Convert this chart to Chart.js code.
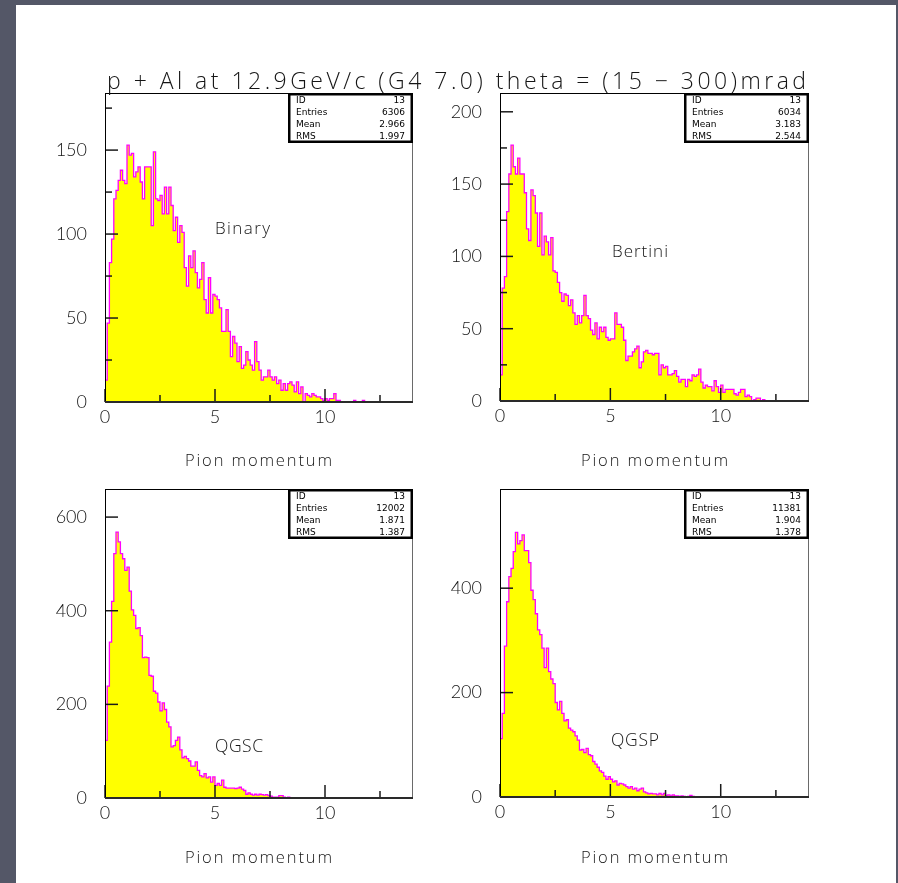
<!DOCTYPE html>
<html>
<head>
<meta charset="utf-8">
<title>p + Al at 12.9GeV/c (G4 7.0)</title>
<script src="https://cdn.jsdelivr.net/npm/chart.js@4.4.1/dist/chart.umd.min.js"></script>
<style>
  html, body { margin: 0; padding: 0; }
  body { width: 898px; height: 883px; overflow: hidden; position: relative; background: #545767; font-family: 'Open Sans', Lato, sans-serif; }
  #page { position: absolute; left: 16px; top: 5px; width: 880px; height: 878px; background: #fff; }
  canvas { position: absolute; }
  .lbl { position: absolute; white-space: nowrap; line-height: 1; font-weight: 300; color: #151515; }
</style>
</head>
<body>
<div id="page"></div>
<canvas id="c1"></canvas>
<canvas id="c2"></canvas>
<canvas id="c3"></canvas>
<canvas id="c4"></canvas>
<script>
// Histogram bins are 0.1 wide, starting at 0
const BIN = 0.1;
const xTicks = [0, 5, 10];
const xMinor = [2.5, 7.5, 12.5];
const xTitle = 'Pion momentum';
const pageTitle = 'p + Al at 12.9GeV/c (G4 7.0) theta = (15 \u2212 300)mrad';

// Binary cascade
const binaryCounts = [
  13, 47, 83, 97, 121, 126, 132, 138, 132, 130,
  153, 147, 148, 134, 137, 140, 131, 121, 140, 140,
  140, 105, 149, 121, 120, 123, 112, 128, 112, 128,
  117, 102, 110, 95, 105, 101, 80, 69, 87, 80,
  90, 77, 68, 73, 83, 61, 53, 74, 53, 64,
  63, 61, 56, 42, 42, 55, 42, 27, 39, 35,
  24, 33, 20, 22, 30, 25, 22, 19, 36, 24,
  19, 13, 15, 15, 19, 15, 13, 15, 11, 13,
  7, 11, 7, 11, 12, 10, 6, 12, 5, 9,
  0, 5, 4, 3, 5, 4, 3, 3, 2, 1,
  2, 1, 2, 2, 5, 1, 1, 0, 0, 0,
  0, 0, 0, 1, 0, 0, 0, 1, 0, 0
];
const binaryYTicks = [0, 50, 100, 150];
const binaryYMinor = [25, 75, 125, 175];

// Bertini cascade
const bertiniCounts = [
  18, 78, 86, 131, 157, 177, 162, 157, 168, 157,
  157, 144, 119, 111, 146, 142, 130, 107, 130, 101,
  114, 110, 101, 113, 90, 89, 82, 75, 69, 74,
  73, 66, 70, 61, 53, 59, 54, 59, 73, 59,
  57, 49, 46, 54, 43, 51, 48, 51, 44, 42,
  43, 43, 61, 53, 53, 51, 42, 28, 31, 31,
  34, 36, 38, 23, 27, 34, 35, 33, 33, 32,
  33, 33, 18, 25, 23, 24, 18, 18, 19, 21,
  17, 13, 15, 15, 10, 15, 14, 18, 17, 18,
  22, 13, 9, 11, 10, 10, 7, 14, 10, 6,
  11, 6, 8, 8, 8, 8, 5, 4, 6, 8,
  8, 3, 4, 3, 0, 1, 2, 2, 0, 1
];
const bertiniYTicks = [0, 50, 100, 150, 200];
const bertiniYMinor = [25, 75, 125, 175];

// QGSC
const qgscCounts = [
  123, 239, 333, 420, 522, 568, 547, 522, 511, 486,
  493, 442, 402, 390, 362, 364, 347, 300, 301, 300,
  262, 260, 228, 224, 205, 186, 203, 189, 162, 152,
  109, 112, 123, 130, 103, 86, 89, 84, 79, 68,
  68, 77, 59, 48, 45, 52, 43, 45, 34, 45,
  27, 31, 27, 38, 23, 21, 21, 21, 21, 20,
  21, 23, 19, 16, 8, 11, 8, 6, 8, 6,
  8, 7, 6, 7, 5, 4, 2, 2, 2, 5,
  5, 2, 1, 2, 1, 1, 0, 1, 1, 0
];
const qgscYTicks = [0, 200, 400, 600];
const qgscYMinor = [];

// QGSP
const qgspCounts = [
  112, 160, 289, 374, 422, 438, 470, 507, 485, 491,
  502, 472, 472, 449, 396, 378, 351, 320, 311, 285,
  248, 285, 240, 226, 217, 181, 167, 183, 160, 146,
  148, 132, 128, 125, 117, 109, 90, 91, 85, 93,
  81, 79, 68, 63, 57, 50, 47, 40, 34, 39,
  34, 29, 31, 23, 26, 25, 23, 20, 17, 20,
  15, 17, 12, 15, 17, 10, 8, 6, 7, 6,
  6, 4, 7, 4, 7, 3, 4, 2, 4, 2,
  2, 1, 2, 1, 0, 1, 3, 1, 0, 0
];
const qgspYTicks = [0, 200, 400];
const qgspYMinor = [];

// Stat boxes
const models = ['Binary', 'Bertini', 'QGSC', 'QGSP'];
const statIds = ['13', '13', '13', '13'];
const statEntries = ['6306', '6034', '12002', '11381'];
const statMeans = ['2.966', '3.183', '1.871', '1.904'];
const statRms = ['1.997', '2.544', '1.387', '1.378'];
const yMaxes = [184, 213, 660, 590];

const panels = [
  { counts: binaryCounts, yTicks: binaryYTicks, yMinor: binaryYMinor },
  { counts: bertiniCounts, yTicks: bertiniYTicks, yMinor: bertiniYMinor },
  { counts: qgscCounts, yTicks: qgscYTicks, yMinor: qgscYMinor },
  { counts: qgspCounts, yTicks: qgspYTicks, yMinor: qgspYMinor }
];

// Plot frames in page pixels (left, right, top, bottom)
const frames = [
  { l: 105, r: 413, t: 93, b: 402 },
  { l: 500, r: 809, t: 93, b: 401 },
  { l: 105, r: 413, t: 489, b: 798 },
  { l: 500, r: 809, t: 489, b: 797 }
];

// Free text: left edge, baseline, font size, target width
const texts = [
  { text: pageTitle, x: 107, base: 88.5, size: 23, w: 699 },
  { text: xTitle, x: 185, base: 466, size: 16.5, w: 147 },
  { text: xTitle, x: 581, base: 466, size: 16.5, w: 147 },
  { text: xTitle, x: 185, base: 863, size: 16.5, w: 147 },
  { text: xTitle, x: 581, base: 863, size: 16.5, w: 147 },
  { text: models[0], x: 215, base: 234, size: 17, w: 55 },
  { text: models[1], x: 612, base: 257, size: 17, w: 56 },
  { text: models[2], x: 215, base: 752, size: 17.5, w: 48 },
  { text: models[3], x: 611, base: 746, size: 17.5, w: 48 }
];

const AXIS_W = 95, AXIS_H = 70, PAD_T = 10, PAD_R = 20;
const TICK_FONT = { family: 'Lato', size: 18, weight: '300' };

// Step outline through bin edges
function stepPoints(counts) {
  const pts = [{ x: 0, y: 0 }];
  counts.forEach((c, k) => pts.push({ x: k * BIN, y: c }));
  pts.push({ x: counts.length * BIN, y: 0 });
  return pts;
}

// Frame, inward ticks and stat box
const histFrame = {
  id: 'histFrame',
  afterDatasetsDraw(chart) {
    const { ctx, chartArea: a, scales: { x, y } } = chart;
    const o = chart.options.plugins.histFrame;
    ctx.save();
    ctx.strokeStyle = '#1a1a1a';
    ctx.lineWidth = 1.5;
    const yTick = (v, len) => {
      const py = y.getPixelForValue(v);
      ctx.beginPath(); ctx.moveTo(a.left, py); ctx.lineTo(a.left + len, py); ctx.stroke();
    };
    const xTick = (v, len) => {
      const px = x.getPixelForValue(v);
      ctx.beginPath(); ctx.moveTo(px, a.bottom); ctx.lineTo(px, a.bottom - len); ctx.stroke();
    };
    o.yTicks.forEach(v => yTick(v, 13));
    o.yMinor.forEach(v => yTick(v, 7));
    xTicks.forEach(v => xTick(v, 13));
    xMinor.forEach(v => xTick(v, 7));

    // frame
    ctx.lineWidth = 1;
    ctx.strokeStyle = '#000';
    ctx.beginPath();
    ctx.moveTo(a.left, a.top + 0.5); ctx.lineTo(a.right, a.top + 0.5);
    ctx.moveTo(a.left + 0.5, a.top); ctx.lineTo(a.left + 0.5, a.bottom);
    ctx.stroke();
    ctx.strokeStyle = '#6a6a6a';
    ctx.beginPath();
    ctx.moveTo(a.right - 0.5, a.top); ctx.lineTo(a.right - 0.5, a.bottom);
    ctx.stroke();
    ctx.strokeStyle = '#2a2a2a';
    ctx.lineWidth = 2;
    ctx.beginPath();
    ctx.moveTo(a.left, a.bottom); ctx.lineTo(a.right, a.bottom);
    ctx.stroke();
    ctx.restore();
  },
  afterDraw(chart) {
    const { ctx, chartArea: a } = chart;
    const i = chart.options.plugins.histFrame.index;
    const bw = 125, bh = 50;
    const bx = a.right - bw, by = a.top;
    ctx.save();
    ctx.fillStyle = '#fff';
    ctx.fillRect(bx, by, bw, bh);
    ctx.strokeStyle = '#000';
    ctx.lineWidth = 2.5;
    ctx.strokeRect(bx + 1.25, by + 1.25, bw - 2.5, bh - 2.5);
    ctx.fillStyle = '#000';
    ctx.font = '9px "DejaVu Sans", sans-serif';
    ctx.textBaseline = 'middle';
    const rows = [['ID', statIds[i]], ['Entries', statEntries[i]], ['Mean', statMeans[i]], ['RMS', statRms[i]]];
    rows.forEach((r, k) => {
      const ry = by + 8 + k * 12;
      ctx.textAlign = 'left';
      ctx.fillText(r[0], bx + 8, ry);
      ctx.textAlign = 'right';
      ctx.fillText(r[1], bx + bw - 8, ry);
    });
    ctx.restore();
  }
};

panels.forEach((p, i) => {
  const f = frames[i];
  const cv = document.getElementById('c' + (i + 1));
  const w = AXIS_W + (f.r - f.l) + PAD_R;
  const h = PAD_T + (f.b - f.t) + AXIS_H;
  cv.width = w; cv.height = h;
  cv.style.width = w + 'px'; cv.style.height = h + 'px';
  cv.style.left = (f.l - AXIS_W) + 'px';
  cv.style.top = (f.t - PAD_T) + 'px';

  new Chart(cv, {
    type: 'line',
    data: {
      datasets: [{
        data: stepPoints(p.counts),
        stepped: 'before',
        fill: 'origin',
        backgroundColor: '#ffff00',
        borderColor: '#ff00ff',
        borderWidth: 1.3,
        pointRadius: 0,
        tension: 0
      }]
    },
    options: {
      responsive: false,
      animation: false,
      devicePixelRatio: 1,
      events: [],
      layout: { padding: { top: PAD_T, right: PAD_R, left: 0, bottom: 0 } },
      plugins: {
        legend: { display: false },
        tooltip: { enabled: false },
        histFrame: { index: i, yTicks: p.yTicks, yMinor: p.yMinor }
      },
      scales: {
        x: {
          type: 'linear',
          min: 0,
          max: 14,
          grid: { display: false, drawTicks: false },
          border: { display: false },
          ticks: { padding: 4, autoSkip: false, maxRotation: 0, color: '#151515', font: TICK_FONT },
          afterBuildTicks: s => { s.ticks = xTicks.map(v => ({ value: v })); },
          afterFit: s => { s.height = AXIS_H; s.paddingLeft = 0; s.paddingRight = 0; }
        },
        y: {
          type: 'linear',
          min: 0,
          max: yMaxes[i],
          grid: { display: false, drawTicks: false },
          border: { display: false },
          ticks: { padding: 18, color: '#151515', font: TICK_FONT },
          afterBuildTicks: s => { s.ticks = p.yTicks.map(v => ({ value: v })); },
          afterFit: s => { s.width = AXIS_W; s.paddingTop = 0; s.paddingBottom = 0; }
        }
      }
    },
    plugins: [histFrame]
  });
});

// Place free text on its baseline and stretch it to the measured width
texts.forEach(t => {
  const el = document.createElement('div');
  el.className = 'lbl';
  el.style.fontSize = t.size + 'px';
  el.style.left = t.x + 'px';
  el.style.top = '0px';
  el.textContent = t.text;
  const probe = document.createElement('span');
  probe.style.cssText = 'display:inline-block;width:0;height:0;';
  el.appendChild(probe);
  document.body.appendChild(el);
  const natural = el.getBoundingClientRect().width;
  el.style.letterSpacing = ((t.w - natural) / (t.text.length - 1)) + 'px';
  const base = probe.getBoundingClientRect().top;
  el.style.top = (t.base - base) + 'px';
});
</script>
</body>
</html>
